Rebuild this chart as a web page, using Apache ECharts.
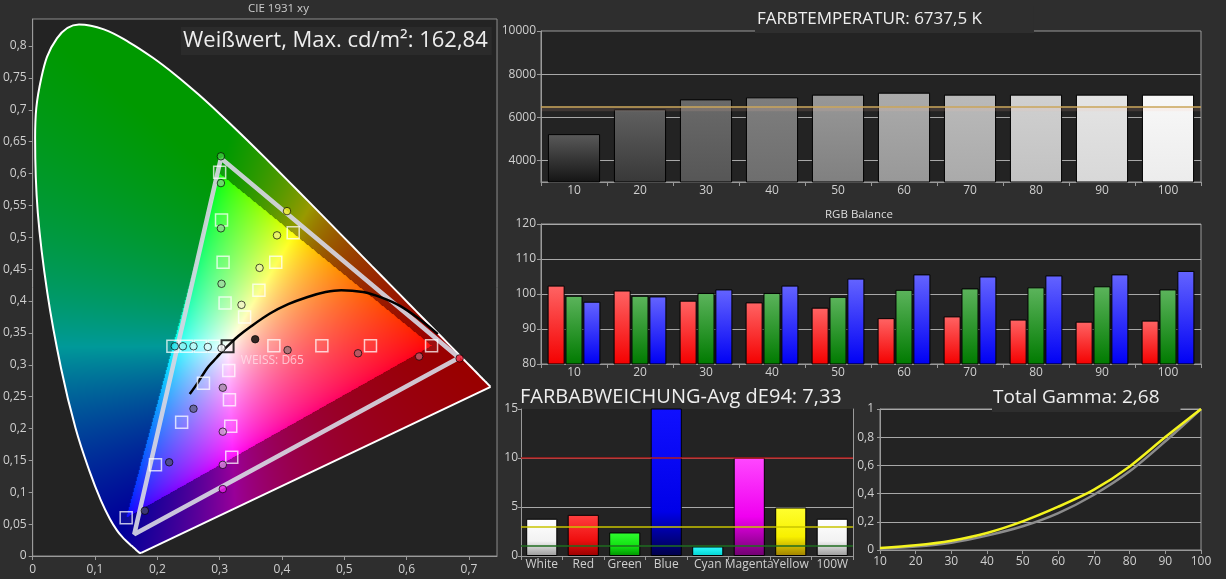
<!DOCTYPE html>
<html><head><meta charset="utf-8">
<script src="https://cdn.jsdelivr.net/npm/echarts@6/dist/echarts.min.js"></script>
<style>html,body{margin:0;padding:0;background:#2e2e2e;}#c{width:1226px;height:579px;}</style>
</head><body><div id="c"></div>
<script>
// ---------- DATA ----------
// CIE 1931 spectral locus (380..700 nm, 5 nm)
const locusXY = [
[0.1741,0.0050],[0.1740,0.0050],[0.1738,0.0049],[0.1736,0.0049],[0.1733,0.0048],[0.1730,0.0048],[0.1726,0.0048],[0.1721,0.0048],
[0.1714,0.0051],[0.1703,0.0058],[0.1689,0.0069],[0.1669,0.0086],[0.1644,0.0109],[0.1611,0.0138],[0.1566,0.0177],[0.1510,0.0227],
[0.1440,0.0297],[0.1355,0.0399],[0.1241,0.0578],[0.1096,0.0868],[0.0913,0.1327],[0.0687,0.2007],[0.0454,0.2950],[0.0235,0.4127],
[0.0082,0.5384],[0.0039,0.6548],[0.0139,0.7502],[0.0389,0.8120],[0.0743,0.8338],[0.1142,0.8262],[0.1547,0.8059],[0.1929,0.7816],
[0.2296,0.7543],[0.2658,0.7243],[0.3016,0.6923],[0.3373,0.6589],[0.3731,0.6245],[0.4087,0.5896],[0.4441,0.5547],[0.4788,0.5202],
[0.5125,0.4866],[0.5448,0.4544],[0.5752,0.4242],[0.6029,0.3965],[0.6270,0.3725],[0.6482,0.3514],[0.6658,0.3340],[0.6801,0.3197],
[0.6915,0.3083],[0.7006,0.2993],[0.7079,0.2920],[0.7140,0.2859],[0.7190,0.2809],[0.7230,0.2770],[0.7260,0.2740],[0.7283,0.2717],
[0.7300,0.2700],[0.7311,0.2689],[0.7320,0.2680],[0.7327,0.2673],[0.7334,0.2666],[0.7340,0.2660],[0.7344,0.2656],[0.7346,0.2654],[0.7347,0.2653]
];
// black-body curve
const planckXY = [[0.252,0.254],[0.265,0.272],[0.2805,0.2955],[0.295,0.311],[0.3045,0.3215],[0.3135,0.330],[0.330,0.345],[0.350,0.360],
[0.380,0.380],[0.410,0.395],[0.440,0.406],[0.470,0.414],[0.495,0.417],[0.530,0.414],[0.558,0.406],[0.590,0.392],[0.620,0.372],[0.650,0.348]];
// measured gamut triangle
const gamutTriangle = [[0.302,0.624],[0.684,0.311],[0.163,0.034],[0.302,0.624]];
// target squares
const targetRed = [[0.387,0.330],[0.464,0.330],[0.542,0.330],[0.640,0.330]];
const targetGreen = [[0.300,0.602],[0.303,0.527],[0.3055,0.461],[0.3087,0.397]];
const targetBlue = [[0.274,0.271],[0.239,0.210],[0.197,0.143],[0.150,0.060]];
const targetCyan = [[0.225,0.329],[0.247,0.329],[0.269,0.329],[0.291,0.329]];
const targetMagenta = [[0.3146,0.291],[0.3157,0.245],[0.3178,0.2035],[0.3194,0.155]];
const targetYellow = [[0.340,0.375],[0.363,0.417],[0.390,0.461],[0.418,0.507]];
const targetWhite = [[0.3127,0.329]];
// measured circles
const measuredRed = [[0.409,0.323],[0.522,0.318],[0.620,0.313],[0.685,0.310]];
const measuredGreen = [[0.302,0.627],[0.302,0.585],[0.302,0.514],[0.303,0.427]];
const measuredBlue = [[0.258,0.231],[0.219,0.147],[0.180,0.071]];
const measuredCyan = [[0.228,0.329],[0.241,0.329],[0.258,0.329],[0.281,0.328]];
const measuredMagenta = [[0.305,0.264],[0.305,0.195],[0.305,0.143],[0.305,0.105]];
const measuredYellow = [[0.408,0.541],[0.392,0.503],[0.364,0.452],[0.335,0.394]];
const measuredWhite = [[0.303,0.326]];
const measuredBlack = [[0.357,0.340]];
const whiteLabelAnchor = [0.334,0.307];

// colour temperature
const tempCategories = ['10','20','30','40','50','60','70','80','90','100'];
const tempValues = [5220,6370,6830,6925,7050,7140,7050,7050,7050,7050];
const tempTarget = 6500;
const tempGridValues = [4000,6000,8000];
const tempTickValues = [4000,6000,8000,10000];

// RGB balance
const rgbCategories = ['10','20','30','40','50','60','70','80','90','100'];
const rgbRed   = [102.4,101.0,98.1,97.6,96.1,93.1,93.6,92.7,92.1,92.4];
const rgbGreen = [99.5,99.5,100.3,100.3,99.2,101.2,101.6,101.9,102.2,101.3];
const rgbBlue  = [97.8,99.3,101.3,102.4,104.4,105.6,105.0,105.3,105.6,106.6];

// colour deviation
const deCategories = ['White','Red','Green','Blue','Cyan','Magenta','Yellow','100W'];
const deValues = [3.8,4.2,2.4,15.5,0.97,10.05,4.95,3.8];
const deThresholds = [10,3,1];

// gamma
const gammaX = [10,20,30,40,50,60,70,80,90,100];
const gammaMeasured = [0.014,0.033,0.066,0.121,0.203,0.307,0.428,0.593,0.801,1.0];
const gammaTarget   = [0.009,0.024,0.052,0.102,0.168,0.262,0.392,0.558,0.771,1.0];

// ---------- STYLES ----------
const FONT = '"Open Sans","Noto Sans",sans-serif';
const OUTER = '#2e2e2e', PLOT = '#232323', FRAME = '#9a9a9a', LBL = '#cfcfcf';
const LOCUS_SMOOTH = 0.4;
const fmtComma = v => String(Math.round(v*1000)/1000).replace('.', ',');
const vgrad = stops => ({type:'linear',x:0,y:0,x2:0,y2:1,colorStops:stops.map(c=>({offset:c[0],color:c[1]}))});

const tempTop = ['#5a5a5a','#606060','#6a6a6a','#7e7e7e','#989898','#ababab','#bababa','#d0d0d0','#e4e4e4','#f8f8f8'];
const tempBottom = ['#141414','#383838','#565656','#6e6e6e','#808080','#989898','#aaaaaa','#c2c2c2','#d8d8d8','#ececec'];
const deStops = [
 [[0,'#ffffff'],[0.6,'#f2f2f2'],[1,'#9a9a9a']],
 [[0,'#ff4040'],[0.6,'#f01010'],[1,'#9a0000']],
 [[0,'#30ff30'],[0.6,'#10e010'],[1,'#009000']],
 [[0,'#1010ff'],[0.7,'#0000e8'],[1,'#000048']],
 [[0,'#30ffff'],[1,'#00d0d0']],
 [[0,'#ff48ff'],[0.6,'#f000f0'],[1,'#700070']],
 [[0,'#ffff30'],[0.6,'#f8f000'],[1,'#a08000']],
 [[0,'#ffffff'],[0.6,'#f2f2f2'],[1,'#9a9a9a']]
];
const circleSweeps = [
 [measuredRed, ['#9c7478','#a8606c','#c25a6c','#e8132b']],
 [measuredGreen, ['#3cc83c','#7ed27e','#8fd78f','#a0d8a0']],
 [measuredBlue, ['#5e5e88','#4c4c78','#46466a']],
 [measuredCyan, ['#2ee0e8','#8ef2f2','#b6f6f6','#d2f8f8']],
 [measuredMagenta, ['#a58aa8','#c59cc8','#d58ad8','#e81ee8']],
 [measuredYellow, ['#f0ee28','#eef07a','#eef2a8','#f2f4c8']],
 [measuredWhite, ['#ffffff']],
 [measuredBlack, ['#000000']]
];

// chromaticity colour of the background
function chromaColor(x, y) {
  if (y <= 0.0005) return null;
  const X = x / y, Y = 1, Z = (1 - x - y) / y;
  let r = 3.2406*X - 1.5372*Y - 0.4986*Z;
  let g = -0.9689*X + 1.8758*Y + 0.0415*Z;
  let b = 0.0557*X - 0.2040*Y + 1.0570*Z;
  const inside = r >= 0 && g >= 0 && b >= 0;
  r = Math.max(r,0); g = Math.max(g,0); b = Math.max(b,0);
  const m = Math.max(r,g,b) || 1;
  r/=m; g/=m; b/=m;
  if (inside) { const e = 1/1.5; return [255*Math.pow(r,e),255*Math.pow(g,e),255*Math.pow(b,e)]; }
  const k = 0.6*255;
  return [r*k, g*k, b*k];
}
// same smoothing as the line series (smooth factor LOCUS_SMOOTH)
function smoothPath(ctx, pts, s) {
  let cx0 = 0, cy0 = 0;
  for (let i = 0; i < pts.length; i++) {
    const x = pts[i][0], y = pts[i][1];
    if (i === 0) { ctx.moveTo(x, y); cx0 = x; cy0 = y; continue; }
    const px = pts[i-1][0], py = pts[i-1][1];
    let cx1 = x, cy1 = y, nx0 = x, ny0 = y;
    if (i < pts.length - 1) {
      const nx = pts[i+1][0], ny = pts[i+1][1];
      const vx = nx - px, vy = ny - py;
      const l0 = Math.hypot(x-px, y-py), l1 = Math.hypot(nx-x, ny-y);
      const r = (l0 + l1) ? l1 / (l0 + l1) : 0.5;
      nx0 = x + vx*s*r; ny0 = y + vy*s*r;
      cx1 = x - vx*s*(1-r); cy1 = y - vy*s*(1-r);
    }
    ctx.bezierCurveTo(cx0, cy0, cx1, cy1, x, y);
    cx0 = nx0; cy0 = ny0;
  }
}
let cieCanvas = null, cieKey = '';
function renderCIE(params, api) {
  const cs = params.coordSys;
  const o = api.coord([0,0]), ux = api.coord([1,0]), uy = api.coord([0,1]);
  const sx = ux[0]-o[0], sy = uy[1]-o[1];
  const W = Math.round(cs.width), H = Math.round(cs.height);
  const key = [W,H,o[0],o[1],sx,sy].join(',');
  if (key !== cieKey) {
    const cv = document.createElement('canvas'); cv.width = W; cv.height = H;
    const ctx = cv.getContext('2d');
    const img = ctx.createImageData(W,H);
    for (let j=0;j<H;j++) for (let i=0;i<W;i++) {
      const x = (cs.x+i+0.5-o[0])/sx, y = (cs.y+j+0.5-o[1])/sy;
      const c = chromaColor(x,y);
      if (c) { const k=(j*W+i)*4; img.data[k]=c[0]; img.data[k+1]=c[1]; img.data[k+2]=c[2]; img.data[k+3]=255; }
    }
    ctx.putImageData(img,0,0);
    ctx.globalCompositeOperation = 'destination-in';
    ctx.beginPath();
    const pts = locusXY.map(p => [o[0]+p[0]*sx-cs.x, o[1]+p[1]*sy-cs.y]);
    smoothPath(ctx, pts, LOCUS_SMOOTH);
    ctx.lineTo(pts[0][0], pts[0][1]);
    ctx.closePath(); ctx.fillStyle = '#000'; ctx.fill();
    cieCanvas = cv; cieKey = key;
  }
  return {type:'image', style:{image:cieCanvas, x:cs.x, y:cs.y, width:W, height:H}};
}

const axisLbl = (extra) => Object.assign({color:LBL, fontSize:12, fontFamily:FONT}, extra||{});
const axLine = {show:true, lineStyle:{color:FRAME, width:1}};
const axTick = (len) => ({show:true, length:len, lineStyle:{color:FRAME}});

const chart = echarts.init(document.getElementById('c'), null, {renderer:'canvas'});

const targetSeries = [targetRed,targetGreen,targetBlue,targetCyan,targetMagenta,targetYellow].map(d => ({
  type:'scatter', xAxisIndex:0, yAxisIndex:0, z:6, silent:true, symbol:'rect', symbolSize:12,
  itemStyle:{color:'rgba(255,255,255,0.07)', borderColor:'rgba(255,255,255,0.92)', borderWidth:1.5}, data:d
}));
const circleSeries = circleSweeps.map(([d, fills]) => ({
  type:'scatter', xAxisIndex:0, yAxisIndex:0, z:8, silent:true, symbol:'circle', symbolSize:7.5,
  data: d.map((p,i)=>({value:p, itemStyle:{color:fills[i], borderColor:'rgba(0,0,0,0.85)', borderWidth:1}}))
}));

const option = {
  animation:false,
  backgroundColor: OUTER,
  textStyle:{fontFamily:FONT},
  title:[
    {text:'CIE 1931 xy', left:248, top:3, padding:0, textStyle:{color:'#cccccc', fontSize:11.5, fontWeight:'normal', fontFamily:FONT}},
    {text:'Weißwert, Max. cd/m²: 162,84', left:181, top:27, padding:[1,4,1,2], backgroundColor:'#2b2b2b',
      textStyle:{color:'#eeeeee', fontSize:22, lineHeight:26, fontWeight:'normal', fontFamily:FONT}},
    {text:'FARBTEMPERATUR: 6737,5 K', left:755, top:6, padding:[2,52,3,2], backgroundColor:OUTER,
      textStyle:{color:'#eeeeee', fontSize:17, lineHeight:22, fontWeight:'normal', fontFamily:FONT}},
    {text:'RGB Balance', left:825, top:209, padding:0, textStyle:{color:'#dddddd', fontSize:11.5, fontWeight:'normal', fontFamily:FONT}},
    {text:'FARBABWEICHUNG-Avg dE94: 7,33', left:520, top:385, padding:0,
      textStyle:{color:'#eeeeee', fontSize:20, lineHeight:24, fontWeight:'normal', fontFamily:FONT}},
    {text:'Total Gamma: 2,68', left:992, top:386, padding:[0,21,2,1], backgroundColor:OUTER,
      textStyle:{color:'#eeeeee', fontSize:19, lineHeight:24, fontWeight:'normal', fontFamily:FONT}}
  ],
  grid:[
    {left:32, top:19, width:465, height:537, show:true, backgroundColor:PLOT, borderColor:'#8c8c8c', borderWidth:1},
    {left:541, top:31, width:660, height:151, show:true, backgroundColor:PLOT, borderColor:FRAME, borderWidth:1},
    {left:541, top:224, width:660, height:140, show:true, backgroundColor:PLOT, borderColor:FRAME, borderWidth:1},
    {left:521, top:409, width:332, height:147, show:true, backgroundColor:PLOT, borderWidth:0},
    {left:880, top:409, width:321, height:141, show:true, backgroundColor:PLOT, borderColor:FRAME, borderWidth:1}
  ],
  xAxis:[
    {type:'value', gridIndex:0, min:0, max:0.745, interval:0.1, axisLine:axLine, axisTick:axTick(4),
      axisLabel:axisLbl({formatter:fmtComma, margin:8, showMaxLabel:false}), splitLine:{show:false}},
    {type:'category', gridIndex:1, data:tempCategories, axisLine:axLine, axisTick:axTick(4),
      axisLabel:axisLbl({margin:3})},
    {type:'category', gridIndex:2, data:rgbCategories, axisLine:axLine, axisTick:axTick(4),
      axisLabel:axisLbl({margin:3})},
    {type:'category', gridIndex:3, data:deCategories, axisLine:axLine, axisTick:axTick(4),
      axisLabel:axisLbl({margin:3, interval:0})},
    {type:'value', gridIndex:4, min:10, max:100, interval:10, axisLine:axLine, axisTick:axTick(4),
      axisLabel:axisLbl({margin:6}), splitLine:{show:false}}
  ],
  yAxis:[
    {type:'value', gridIndex:0, min:0, max:0.8424, interval:0.05, axisLine:axLine, axisTick:axTick(4),
      axisLabel:axisLbl({formatter:fmtComma, margin:6, showMaxLabel:false}), splitLine:{show:false}},
    {type:'value', gridIndex:1, min:3000, max:10000, interval:1000, axisLine:axLine,
      axisTick:{show:true, length:4, lineStyle:{color:FRAME}, customValues:tempTickValues},
      axisLabel:axisLbl({margin:5, customValues:tempTickValues, formatter:v => (v % 2000 === 0 ? String(v) : '')}),
      splitLine:{show:false}},
    {type:'value', gridIndex:2, min:80, max:120, interval:10, axisLine:axLine, axisTick:axTick(4),
      axisLabel:axisLbl({margin:5}), splitLine:{show:true, lineStyle:{color:'#a8a8a8'}}},
    {type:'value', gridIndex:3, min:0, max:15, interval:5, axisLine:axLine, axisTick:axTick(3),
      axisLabel:axisLbl({margin:3}), splitLine:{show:true, showMaxLine:false, lineStyle:{color:'#a8a8a8'}}},
    {type:'value', gridIndex:3, position:'right', min:0, max:15, interval:5, axisLine:axLine,
      axisTick:{show:false}, axisLabel:{show:false}, splitLine:{show:false}},
    {type:'value', gridIndex:4, min:0, max:1, interval:0.2, axisLine:axLine, axisTick:axTick(3),
      axisLabel:axisLbl({formatter:fmtComma, margin:6}), splitLine:{show:true, lineStyle:{color:'#a8a8a8'}}}
  ],
  series:[
    {type:'custom', xAxisIndex:0, yAxisIndex:0, z:1, silent:true, data:[[0,0]], renderItem:renderCIE},
    {type:'line', xAxisIndex:0, yAxisIndex:0, z:3, silent:true, symbol:'none', smooth:LOCUS_SMOOTH,
      lineStyle:{color:'#ffffff', width:2}, data:locusXY},
    {type:'line', xAxisIndex:0, yAxisIndex:0, z:3, silent:true, symbol:'none',
      lineStyle:{color:'#ffffff', width:2}, data:[locusXY[locusXY.length-1], locusXY[0]]},
    {type:'line', xAxisIndex:0, yAxisIndex:0, z:4, silent:true, symbol:'none',
      lineStyle:{color:'rgba(214,214,226,0.92)', width:4.5}, data:gamutTriangle},
    {type:'line', xAxisIndex:0, yAxisIndex:0, z:5, silent:true, symbol:'none', smooth:0.3,
      lineStyle:{color:'#000000', width:2.5}, data:planckXY},
    ...targetSeries,
    {type:'scatter', xAxisIndex:0, yAxisIndex:0, z:7, silent:true, symbol:'rect', symbolSize:12,
      itemStyle:{color:'rgba(255,255,255,0.1)', borderColor:'#000000', borderWidth:2}, data:targetWhite},
    ...circleSeries,
    {type:'scatter', xAxisIndex:0, yAxisIndex:0, z:9, silent:true, symbolSize:0, data:[whiteLabelAnchor],
      label:{show:true, position:'right', distance:0, formatter:'WEISS: D65', color:'rgba(255,228,236,0.92)', fontSize:12, fontFamily:FONT}},

    // colour temperature
    {type:'line', xAxisIndex:1, yAxisIndex:1, z:1, silent:true, data:[],
      markLine:{z:1, silent:true, symbol:'none', label:{show:false}, lineStyle:{color:'#a8a8a8', width:1, type:'solid'},
        data:tempGridValues.map(v=>({yAxis:v}))}},
    {type:'bar', xAxisIndex:1, yAxisIndex:1, z:3, silent:true, barWidth:'79%',
      data: tempValues.map((v,i)=>({value:v, itemStyle:{color:vgrad([[0,tempTop[i]],[1,tempBottom[i]]]), borderColor:'#000', borderWidth:1}})),
      markArea:{z:4, silent:true, itemStyle:{color:'rgba(255,190,170,0.13)'}, data:[[{yAxis:6280},{yAxis:tempTarget}]]},
      markLine:{z:5, silent:true, symbol:'none', label:{show:false}, lineStyle:{color:'#caa65a', width:1.5, type:'solid'}, data:[{yAxis:tempTarget}]}},

    // RGB balance
    {type:'bar', xAxisIndex:2, yAxisIndex:2, silent:true, barGap:'5%', barCategoryGap:'20%', data:rgbRed,
      itemStyle:{color:vgrad([[0,'#ff6464'],[1,'#f40000']]), borderColor:'#000', borderWidth:1}},
    {type:'bar', xAxisIndex:2, yAxisIndex:2, silent:true, barGap:'5%', barCategoryGap:'20%', data:rgbGreen,
      itemStyle:{color:vgrad([[0,'#5cb45c'],[1,'#007a00']]), borderColor:'#000', borderWidth:1}},
    {type:'bar', xAxisIndex:2, yAxisIndex:2, silent:true, barGap:'5%', barCategoryGap:'20%', data:rgbBlue,
      itemStyle:{color:vgrad([[0,'#6464ff'],[1,'#0000f4']]), borderColor:'#000', borderWidth:1}},

    // colour deviation
    {type:'bar', xAxisIndex:3, yAxisIndex:3, silent:true, barWidth:'75%',
      data: deValues.map((v,i)=>({value:v, itemStyle:{color:vgrad(deStops[i]), borderColor:'#000', borderWidth:1}})),
      markLine:{silent:true, symbol:'none', label:{show:false}, lineStyle:{width:1.5, type:'solid'},
        data:[{yAxis:deThresholds[0], lineStyle:{color:'#b41c1c'}}, {yAxis:deThresholds[1], lineStyle:{color:'#c8c400'}}, {yAxis:deThresholds[2], lineStyle:{color:'#1f6e1f'}}]}},

    // gamma
    {type:'line', xAxisIndex:4, yAxisIndex:5, silent:true, symbol:'none', smooth:0.3,
      lineStyle:{color:'#8c8c8c', width:2.5}, data:gammaX.map((x,i)=>[x,gammaTarget[i]])},
    {type:'line', xAxisIndex:4, yAxisIndex:5, silent:true, symbol:'none', smooth:0.3,
      lineStyle:{color:'#f4f41e', width:2.5}, data:gammaX.map((x,i)=>[x,gammaMeasured[i]])}
  ]
};
chart.setOption(option);
</script></body></html>
